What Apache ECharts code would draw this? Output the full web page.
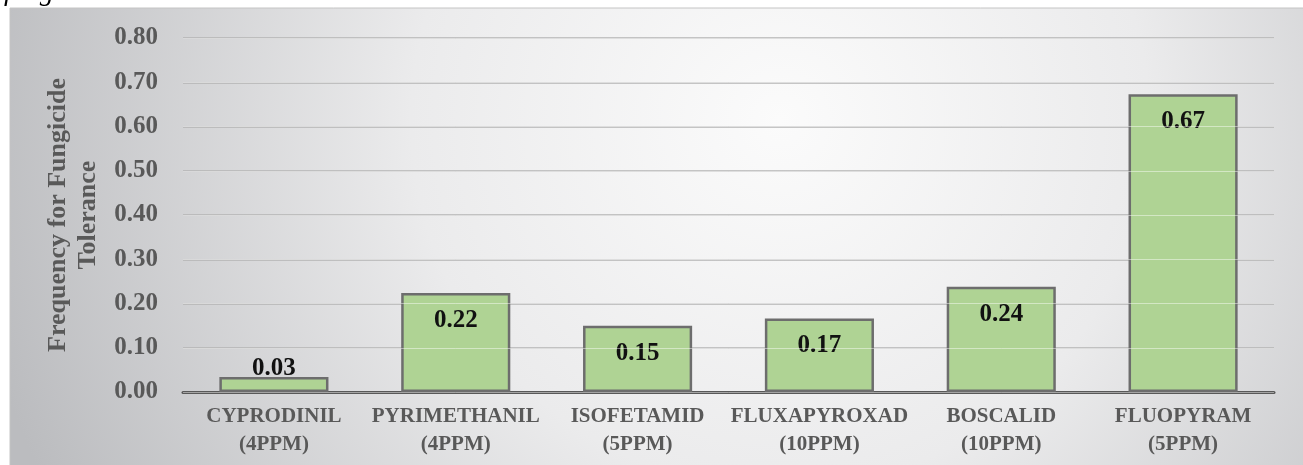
<!DOCTYPE html>
<html>
<head>
<meta charset="utf-8">
<script src="https://cdn.jsdelivr.net/npm/echarts@6/dist/echarts.min.js"></script>
<style>
html,body{margin:0;padding:0;background:#fff;}
#c{width:1303px;height:465px;}
</style>
</head>
<body>
<div id="c"></div>
<script>
const categories = ['CYPRODINIL\n(4PPM)', 'PYRIMETHANIL\n(4PPM)', 'ISOFETAMID\n(5PPM)', 'FLUXAPYROXAD\n(10PPM)', 'BOSCALID\n(10PPM)', 'FLUOPYRAM\n(5PPM)'];
const frequency = [0.034, 0.224, 0.150, 0.166, 0.238, 0.673];
const yTicks = { min: 0, max: 0.8, interval: 0.1 };
const yAxisName = 'Frequency for Fungicide\nTolerance';
const captionText = 'fungicides.';

const serif = '"Liberation Serif", "Times New Roman", serif';
const chart = echarts.init(document.getElementById('c'), null, { renderer: 'canvas' });

const dataItems = frequency.map(function (v) {
  if (v < 0.08) {
    return { value: v, label: { position: 'top', distance: -4 } };
  }
  return { value: v };
});

chart.setOption({
  animation: false,
  backgroundColor: '#ffffff',
  graphic: [
    {
      type: 'text', left: 4, top: -21, z: 0,
      style: { text: captionText, font: 'italic 28px ' + serif, fill: '#000' }
    },
    {
      type: 'rect', z: -10, silent: true,
      shape: { x: 10, y: 8, width: 1300, height: 470 },
      style: {
        fill: new echarts.graphic.RadialGradient(780, 120, 820, [
          { offset: 0, color: '#fbfbfb' },
          { offset: 0.45, color: '#ebebec' },
          { offset: 1, color: '#bbbcbf' }
        ], true),
        stroke: '#c4c4c4', lineWidth: 1
      }
    }
  ],
  grid: { left: 183, right: 29, top: 38, bottom: 73, containLabel: false },
  xAxis: {
    type: 'category',
    data: categories,
    axisLine: { show: true, lineStyle: { color: '#595959', width: 3 } },
    axisTick: { show: false },
    axisLabel: {
      color: '#595959', fontFamily: serif, fontWeight: 'bold', fontSize: 21,
      lineHeight: 28, margin: 11, interval: 0
    }
  },
  yAxis: [
    {
      type: 'value', min: yTicks.min, max: yTicks.max, interval: yTicks.interval,
      name: yAxisName, nameLocation: 'middle', nameGap: 72, nameRotate: 90,
      nameTextStyle: { color: '#595959', fontFamily: serif, fontWeight: 'bold', fontSize: 26, lineHeight: 30 },
      axisLine: { show: false }, axisTick: { show: false },
      axisLabel: {
        color: '#595959', fontFamily: serif, fontWeight: 'bold', fontSize: 25, margin: 25,
        formatter: function (v) { return v.toFixed(2); }
      },
      splitLine: { show: true, lineStyle: { color: '#b3b3b3', width: 1.5 } }
    },
    {
      type: 'value', min: yTicks.min, max: yTicks.max, interval: yTicks.interval,
      position: 'left', z: 5,
      axisLine: { show: false }, axisTick: { show: false }, axisLabel: { show: false },
      splitLine: { show: true, lineStyle: { color: 'rgba(255,255,255,0.45)', width: 1 } }
    }
  ],
  series: [{
    type: 'bar',
    data: dataItems,
    barWidth: '60%',
    z: 2,
    itemStyle: { color: '#afd394', borderColor: '#6d6d6d', borderWidth: 2.5 },
    label: {
      show: true, position: 'insideTop', distance: 15,
      color: '#111', fontFamily: serif, fontWeight: 'bold', fontSize: 25,
      formatter: function (p) { return p.value.toFixed(2); }
    }
  }]
});
</script>
</body>
</html>
